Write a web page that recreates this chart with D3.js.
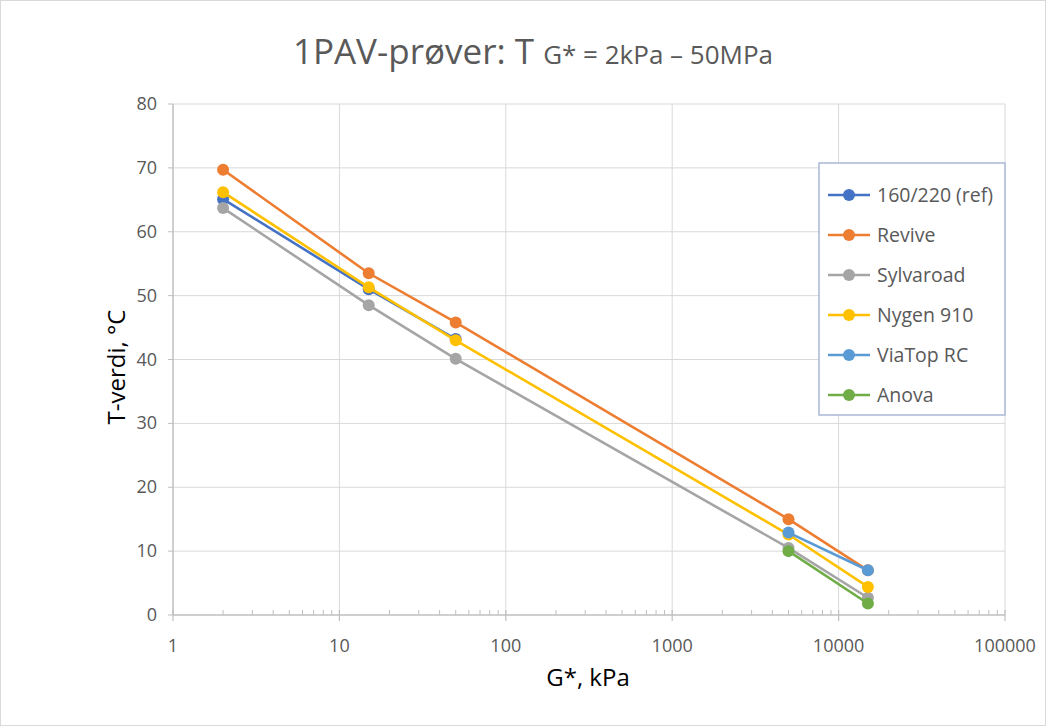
<!DOCTYPE html>
<html><head><meta charset="utf-8">
<script src="https://cdn.jsdelivr.net/npm/d3@7"></script>
<style>body{margin:0;background:#fff;} svg{display:block;font-family:'Open Sans',sans-serif;}</style>
</head><body>
<svg id="chart" width="1046" height="726"></svg>
<script>
const gValues = [2, 15, 50, 5000, 15000];
const seriesNames = ["160/220 (ref)", "Revive", "Sylvaroad", "Nygen 910", "ViaTop RC", "Anova"];
const ref160 = [65.1, 51.0, 43.2, null, null];
const revive = [69.7, 53.5, 45.8, 15.0, 7.0];
const sylvaroad = [63.7, 48.5, 40.1, 10.5, 2.7];
const nygen = [66.2, 51.3, 43.0, 12.6, 4.4];
const viatop = [null, null, null, 12.9, 7.0];
const anova = [null, null, null, 10.0, 1.8];
const colors = ["#4472C4", "#ED7D31", "#A5A5A5", "#FFC000", "#5B9BD5", "#70AD47"];
const xTicks = [1, 10, 100, 1000, 10000, 100000];
const yTicks = [0, 10, 20, 30, 40, 50, 60, 70, 80];

const allSeries = [ref160, revive, sylvaroad, nygen, viatop, anova];
const svg = d3.select("#chart");
svg.append("rect").attr("x",0.5).attr("y",0.5).attr("width",1045).attr("height",725)
  .attr("fill","#fff").attr("stroke","#D9D9D9");

const x = d3.scaleLog().domain([1, 100000]).range([173, 1005]);
const y = d3.scaleLinear().domain([0, 80]).range([615, 104]);

// gridlines
svg.append("g").selectAll("line").data(yTicks.filter(d=>d>0)).join("line")
  .attr("x1", 173).attr("x2", 1005).attr("y1", d=>y(d)).attr("y2", d=>y(d))
  .attr("stroke", "#D9D9D9").attr("stroke-width", 1);
svg.append("g").selectAll("line").data(xTicks.slice(1)).join("line")
  .attr("x1", d=>x(d)).attr("x2", d=>x(d)).attr("y1", 104).attr("y2", 615)
  .attr("stroke", "#D9D9D9").attr("stroke-width", 1);

// x axis
const minor = [];
for (let k = 0; k < 5; k++) for (let m = 2; m <= 9; m++) minor.push(m * Math.pow(10, k));
const xAxis = svg.append("g");
xAxis.append("line").attr("x1",173).attr("x2",1005).attr("y1",615).attr("y2",615).attr("stroke","#BFBFBF").attr("stroke-width",1.5);
xAxis.selectAll(".mn").data(minor).join("line").attr("class","mn")
  .attr("x1",d=>x(d)).attr("x2",d=>x(d)).attr("y1",610).attr("y2",615).attr("stroke","#BFBFBF");
xAxis.selectAll(".mj").data(xTicks).join("line").attr("class","mj")
  .attr("x1",d=>x(d)).attr("x2",d=>x(d)).attr("y1",610).attr("y2",621).attr("stroke","#BFBFBF").attr("stroke-width",1.2);
xAxis.selectAll("text").data(xTicks).join("text")
  .attr("x",d=>x(d)).attr("y",652).attr("text-anchor","middle")
  .attr("font-size",18).attr("fill","#595959").text(d=>d3.format("d")(d));

// y axis
const yAxis = svg.append("g");
yAxis.append("line").attr("x1",173).attr("x2",173).attr("y1",104).attr("y2",615).attr("stroke","#BFBFBF").attr("stroke-width",1.5);
yAxis.selectAll("line.t").data(yTicks).join("line").attr("class","t")
  .attr("x1",168).attr("x2",173).attr("y1",d=>y(d)).attr("y2",d=>y(d)).attr("stroke","#BFBFBF");
yAxis.selectAll("text").data(yTicks).join("text")
  .attr("x",157).attr("y",d=>y(d)+6).attr("text-anchor","end")
  .attr("font-size",18).attr("fill","#595959").text(d=>d);

// axis titles
svg.append("text").attr("x",588).attr("y",686).attr("text-anchor","middle")
  .attr("font-size",24).attr("fill","#000").text("G*, kPa");
svg.append("text").attr("transform","translate(125,367) rotate(-90)").attr("text-anchor","middle")
  .attr("font-size",24).attr("fill","#000").text("T-verdi, °C");

// title
const title = svg.append("text").attr("x",533).attr("y",64).attr("text-anchor","middle").attr("fill","#595959");
title.append("tspan").attr("font-size",35).text("1PAV-prøver: T ");
title.append("tspan").attr("font-size",26).text("G* = 2kPa – 50MPa");

// series
const line = d3.line().defined(d=>d.v!=null).x(d=>x(d.g)).y(d=>y(d.v));
allSeries.forEach((s, i) => {
  const pts = gValues.map((g, j) => ({g, v: s[j]}));
  const g = svg.append("g");
  g.append("path").attr("d", line(pts)).attr("fill","none").attr("stroke",colors[i]).attr("stroke-width",2.6);
  g.selectAll("circle").data(pts.filter(d=>d.v!=null)).join("circle")
    .attr("cx",d=>x(d.g)).attr("cy",d=>y(d.v)).attr("r",6).attr("fill",colors[i]);
});

// legend
const lg = svg.append("g");
lg.append("rect").attr("x",819).attr("y",163).attr("width",186).attr("height",252)
  .attr("fill","#fff").attr("stroke","#A9B8D6").attr("stroke-width",1.5);
seriesNames.forEach((n, i) => {
  const yy = 195 + i * 40;
  lg.append("line").attr("x1",828).attr("x2",870).attr("y1",yy).attr("y2",yy).attr("stroke",colors[i]).attr("stroke-width",2.6);
  lg.append("circle").attr("cx",849).attr("cy",yy).attr("r",6).attr("fill",colors[i]);
  lg.append("text").attr("x",877).attr("y",yy+7).attr("font-size",19.5).attr("fill","#595959").text(n);
});
</script>
</body></html>
